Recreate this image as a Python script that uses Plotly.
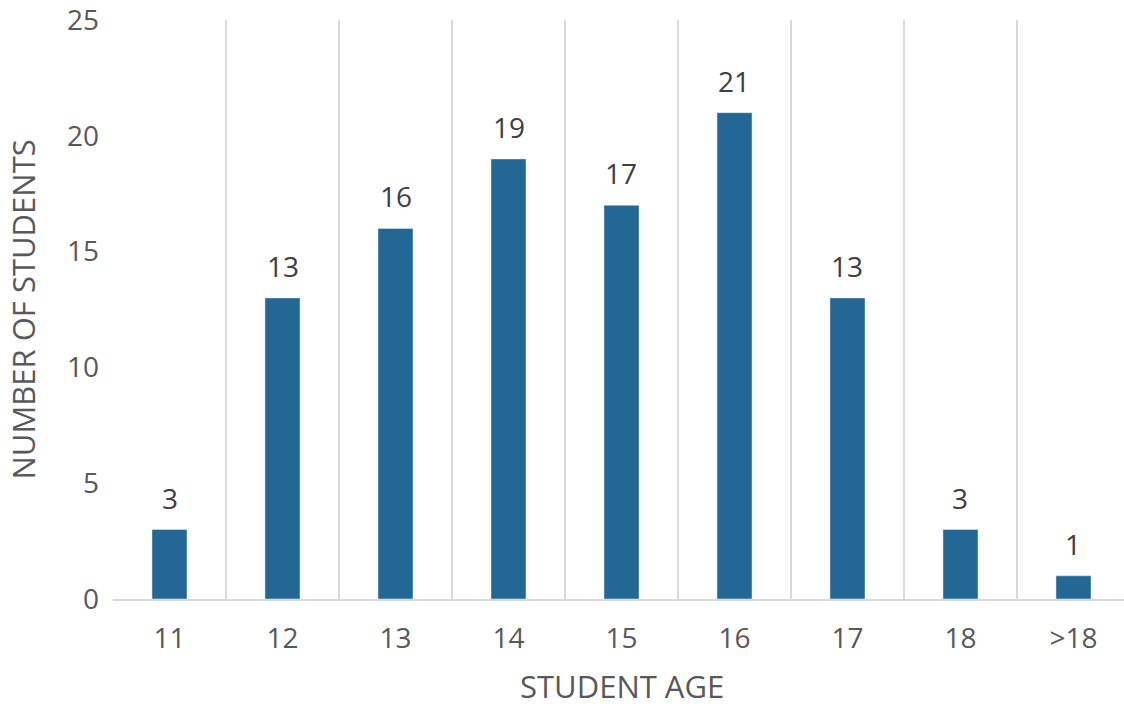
import plotly.graph_objects as go

ages = ["11", "12", "13", "14", "15", "16", "17", "18", ">18"]
students = [3, 13, 16, 19, 17, 21, 13, 3, 1]
x_title = "STUDENT AGE"
y_title = "NUMBER OF STUDENTS"

FONT = "Open Sans"
GREY = "#595959"
SIZE = 28
TSIZE = 31

fig = go.Figure()
fig.add_trace(go.Bar(
    x=ages, y=students, marker_color="#236795", width=0.31,
    cliponaxis=False,
))

for i, v in enumerate(students):
    fig.add_annotation(
        x=i, y=v, text=str(v), showarrow=False, yanchor="middle", yshift=32,
        font=dict(family=FONT, size=SIZE, color="#404040"),
    )

fig.add_annotation(
    xref="paper", yref="paper", x=0.503, y=-0.1503, text=x_title, showarrow=False,
    xanchor="center", yanchor="middle",
    font=dict(family=FONT, size=TSIZE, color=GREY),
)
fig.add_annotation(
    xref="paper", yref="paper", x=-0.0900, y=0.5, text=y_title, showarrow=False,
    xanchor="center", yanchor="middle", textangle=-90,
    font=dict(family=FONT, size=TSIZE, color=GREY),
)

fig.update_layout(
    width=1124, height=706,
    margin=dict(l=113, r=0, t=20, b=107),
    plot_bgcolor="white", paper_bgcolor="white",
    showlegend=False,
    font=dict(family=FONT, size=SIZE, color=GREY),
    xaxis=dict(
        type="category", range=[-0.5, 8.447], automargin=False,
        tickson="boundaries", showgrid=True, gridcolor="#d9d9d9", gridwidth=2,
        showline=True, linecolor="#d9d9d9", linewidth=2,
        ticks="", ticklabelstandoff=13, ticklabeloverflow="allow",
        tickfont=dict(family=FONT, size=SIZE, color=GREY),
    ),
    yaxis=dict(
        range=[0, 25], tickmode="array", tickvals=[0, 5, 10, 15, 20, 25],
        showgrid=False, zeroline=False, automargin=False,
        ticks="", ticklabelstandoff=13, ticklabeloverflow="allow",
        tickfont=dict(family=FONT, size=SIZE, color=GREY),
    ),
)

fig.write_html(
    "out.html",
    config={"displayModeBar": False},
    post_script="document.body.style.margin='0';",
)
